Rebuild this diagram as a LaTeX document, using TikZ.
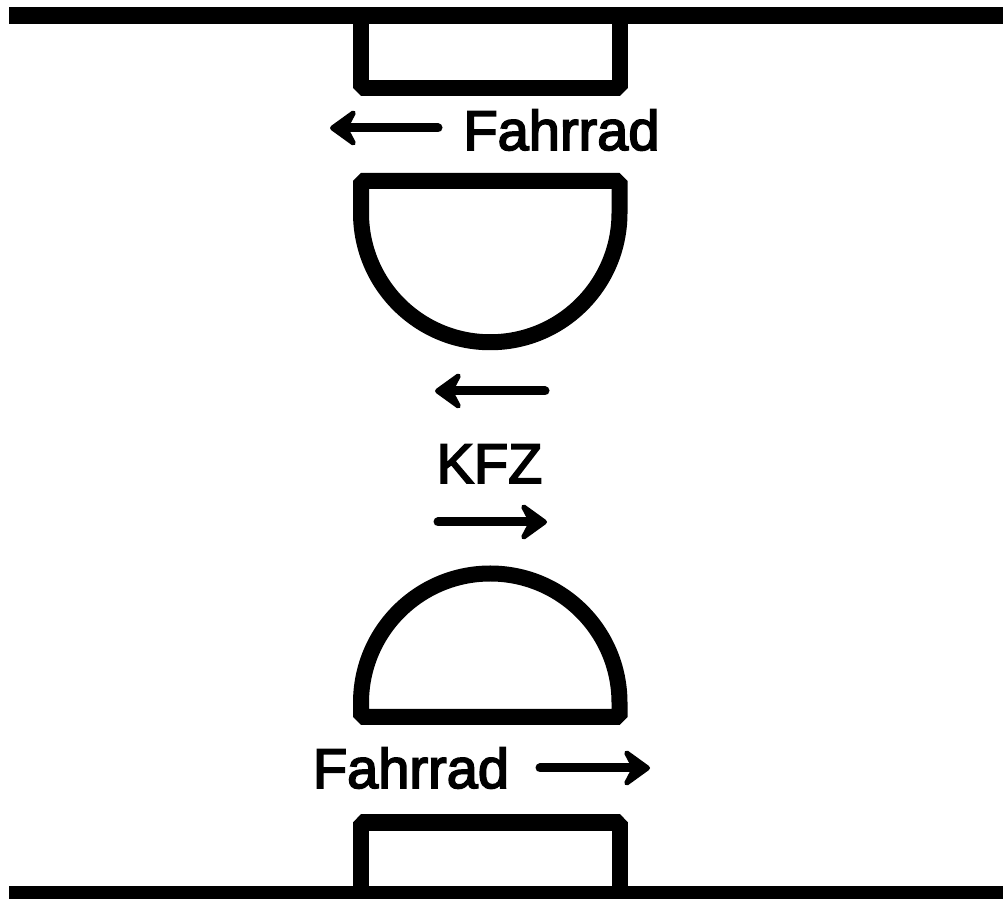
\documentclass[tikz,border=0pt]{standalone}
\usepackage{fontspec}
\setmainfont{Liberation Sans}
\newfontface\lblface[FakeBold=3]{Liberation Sans}
\usetikzlibrary{arrows.meta}
\begin{document}
\begin{tikzpicture}[x=1pt,y=1pt,
  wall/.style={line width=16pt,line join=bevel},
  bar/.style={fill=black},
  dirarrow/.style={line width=9pt,line cap=round,-{Stealth[length=32pt,width=46pt,inset=12pt,round]}},
  lbl/.style={inner sep=0pt,anchor=base,font=\lblface\fontsize{56}{60}\selectfont}]
\useasboundingbox (0,0) rectangle (1003,899);
% road edges
\fill[bar] (9,875) rectangle (1003,892);
\fill[bar] (9,0) rectangle (1003,13);
% top box
\draw[wall] (361,880) -- (361,810.5) -- (619.5,810.5) -- (619.5,880);
% top half-disc
\draw[wall] (361,686) -- (361,718) -- (619.5,718) -- (619.5,686)
  arc[start angle=0,end angle=-180,radius=129.25] -- cycle;
% bottom half-disc
\draw[wall] (361,196.25) arc[start angle=180,end angle=0,radius=129.25]
  -- (619.5,182) -- (361,182) -- cycle;
% bottom box
\draw[wall] (361,8) -- (361,76.5) -- (619.5,76.5) -- (619.5,8);
% labels
\node[lbl] (f1) at (561.5,749) {Fahrrad};
\node[lbl] (kfz) at (489.5,416) {KFZ};
\node[lbl] (f2) at (411,111) {Fahrrad};
% arrows
\coordinate (a1s) at (438,771); \coordinate (a1e) at (330,771);
\coordinate (a2s) at (545,508); \coordinate (a2e) at (435,508);
\coordinate (a3s) at (438,377); \coordinate (a3e) at (547,377);
\coordinate (a4s) at (540,131); \coordinate (a4e) at (650,131);
\draw[dirarrow] (a1s) -- (a1e);
\draw[dirarrow] (a2s) -- (a2e);
\draw[dirarrow] (a3s) -- (a3e);
\draw[dirarrow] (a4s) -- (a4e);
\end{tikzpicture}
\end{document}
